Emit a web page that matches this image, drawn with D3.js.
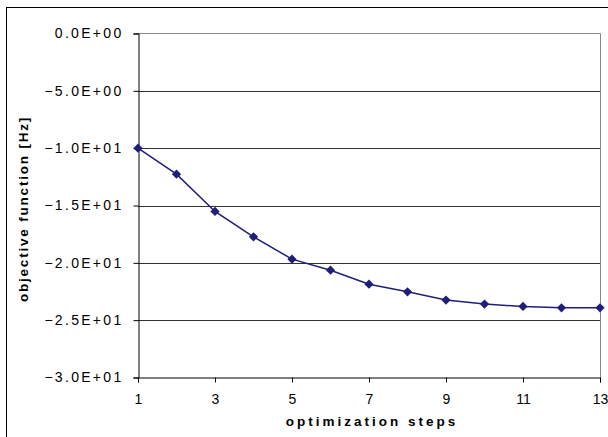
<!DOCTYPE html>
<html>
<head>
<meta charset="utf-8">
<script src="https://cdn.jsdelivr.net/npm/d3@7"></script>
<style>
  body { margin: 0; background: #fff; }
  text { font-family: "Liberation Sans", Arial, sans-serif; }
</style>
</head>
<body>
<div id="chart"></div>
<script>
// optimization steps and objective function values
var steps = [1, 2, 3, 4, 5, 6, 7, 8, 9, 10, 11, 12, 13]
var values = [-10.0, -12.27, -15.52, -17.73, -19.68, -20.64, -21.86, -22.53, -23.25, -23.6, -23.8, -23.92, -23.92]
var yTicks = [0, -5, -10, -15, -20, -25, -30]
var xTicks = [1, 3, 5, 7, 9, 11, 13]

var W = 608, H = 437
var plotL = 138, plotR = 600, plotT = 33.5, plotB = 377.5

var svg = d3.select('#chart')
    .append('svg')
    .attr('width', W)
    .attr('height', H)

// outer frame
svg.append('rect')
    .attr('x', 6.5).attr('y', 7.5)
    .attr('width', W + 10).attr('height', H + 10)
    .attr('fill', 'none').attr('stroke', '#000').attr('stroke-width', 1)

var x = d3.scaleLinear().domain([1, 13]).range([plotL, plotR])
var y = d3.scaleLinear().domain([-30, 0]).range([plotB, plotT])

// gridlines
svg.append('g')
    .selectAll('line')
    .data(yTicks.filter(function (d) { return d !== -30 && d !== 0 }))
    .enter()
    .append('line')
    .attr('x1', plotL).attr('x2', plotR)
    .attr('y1', function (d) { return Math.round(y(d)) + 0.5 })
    .attr('y2', function (d) { return Math.round(y(d)) + 0.5 })
    .attr('stroke', '#333').attr('stroke-width', 1)

// plot border top/right (gray)
svg.append('path')
    .attr('d', 'M' + plotL + ',' + plotT + 'H' + (plotR + 0.5) + 'V' + plotB)
    .attr('fill', 'none').attr('stroke', '#888').attr('stroke-width', 1)

// y axis
var yAxis = svg.append('g')
    .attr('transform', 'translate(' + (plotL + 0.5) + ',0)')
    .call(d3.axisLeft(y).tickValues(yTicks).tickSize(5).tickPadding(10)
        .tickFormat(function (d) {
            var s = d3.format('.1e')(d).toUpperCase()
            return s.replace(/E([+-])(\d)$/, 'E$10$2')
        }))
yAxis.select('.domain').attr('stroke', '#000')
yAxis.selectAll('.tick text')
    .style('font-size', '14px')
    .style('letter-spacing', '2.3px')
    .attr('fill', '#000')

// x axis
var xAxis = svg.append('g')
    .attr('transform', 'translate(0,' + plotB + ')')
    .call(d3.axisBottom(x).tickValues(xTicks).tickSize(5).tickPadding(12))
xAxis.select('.domain').attr('stroke', '#000')
xAxis.selectAll('.tick text')
    .style('font-size', '14px')
    .attr('fill', '#000')

// line
svg.append('path')
    .datum(values)
    .attr('fill', 'none')
    .attr('stroke', '#1f1f78')
    .attr('stroke-width', 1.5)
    .attr('d', d3.line()
        .x(function (d, i) { return x(steps[i]) })
        .y(function (d) { return y(d) }))

// diamond markers
svg.append('g')
    .selectAll('path')
    .data(values)
    .enter()
    .append('path')
    .attr('transform', function (d, i) { return 'translate(' + x(steps[i]) + ',' + y(d) + ')' })
    .attr('d', d3.symbol().type(d3.symbolDiamond2).size(55))
    .attr('fill', '#1f1f78')

// axis titles
svg.append('text')
    .attr('transform', 'translate(28,209)rotate(-90)')
    .attr('text-anchor', 'middle')
    .style('font-size', '13.5px')
    .style('font-weight', 'bold')
    .style('letter-spacing', '1.8px')
    .text('objective function [Hz]')

svg.append('text')
    .attr('x', 372)
    .attr('y', 426)
    .attr('text-anchor', 'middle')
    .style('font-size', '13.5px')
    .style('font-weight', 'bold')
    .style('letter-spacing', '3px')
    .text('optimization steps')
</script>
</body>
</html>
